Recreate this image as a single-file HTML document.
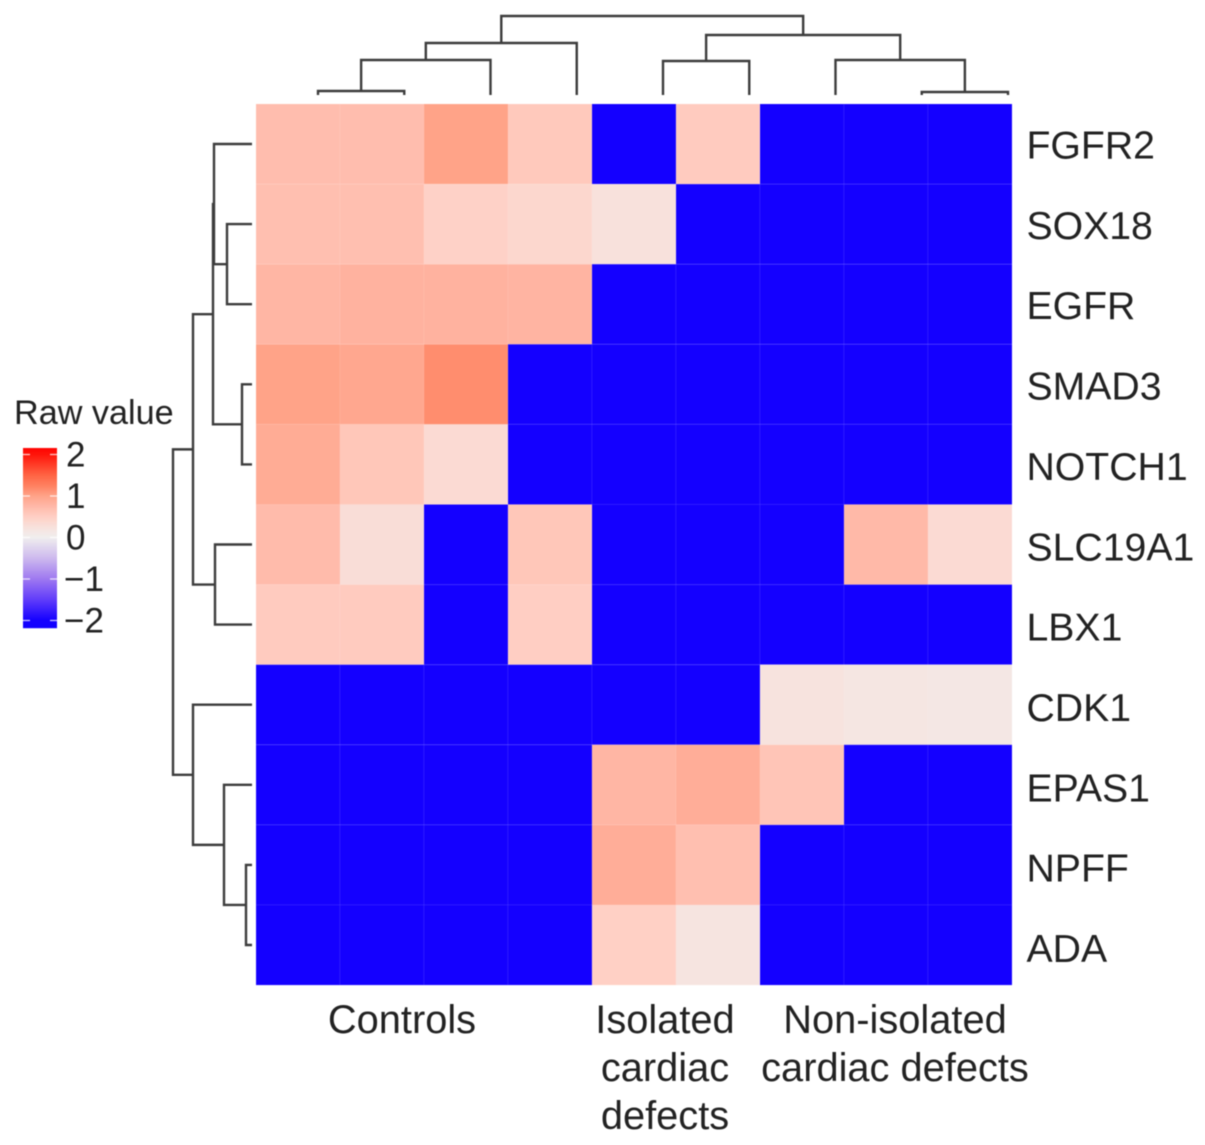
<!DOCTYPE html>
<html>
<head>
<meta charset="utf-8">
<style>
html,body{margin:0;padding:0;background:#fff;width:1205px;height:1145px;overflow:hidden}
svg{display:block;font-family:"Liberation Sans",sans-serif;filter:blur(0.55px)}
text{fill:#222}
</style>
</head>
<body>
<svg id="chart" width="1205" height="1145" viewBox="0 0 1205 1145" xmlns="http://www.w3.org/2000/svg">
  <g id="col-dendro"></g>
  <g id="row-dendro"></g>
  <g id="cells"></g>
  <g id="row-labels"></g>
  <g id="legend">
    <text x="14" y="424" font-size="34.2">Raw value</text>
    <g id="legend-bar"></g>
    <g id="legend-ticks"></g>
  </g>
  <g font-size="39.8" text-anchor="middle">
    <text x="402" y="1033">Controls</text>
    <text x="665" y="1033">Isolated</text>
    <text x="665" y="1081">cardiac</text>
    <text x="665" y="1129">defects</text>
    <text x="895" y="1033">Non-isolated</text>
    <text x="895" y="1081">cardiac defects</text>
  </g>
</svg>
<script>
const rowNames = ["FGFR2","SOX18","EGFR","SMAD3","NOTCH1","SLC19A1","LBX1","CDK1","EPAS1","NPFF","ADA"];
const FGFR2 = [0.70,0.70,1.00,0.58,-2,0.55,-2,-2,-2];
const SOX18 = [0.68,0.68,0.48,0.40,0.25,-2,-2,-2,-2];
const EGFR = [0.78,0.82,0.82,0.80,-2,-2,-2,-2,-2];
const SMAD3 = [1.00,0.95,1.16,-2,-2,-2,-2,-2,-2];
const NOTCH1 = [0.90,0.60,0.35,-2,-2,-2,-2,-2,-2];
const SLC19A1 = [0.72,0.30,-2,0.60,-2,-2,-2,0.75,0.35];
const LBX1 = [0.55,0.55,-2,0.52,-2,-2,-2,-2,-2];
const CDK1 = [-2,-2,-2,-2,-2,-2,0.22,0.17,0.14];
const EPAS1 = [-2,-2,-2,-2,0.78,0.88,0.62,-2,-2];
const NPFF = [-2,-2,-2,-2,0.88,0.68,-2,-2,-2];
const ADA = [-2,-2,-2,-2,0.50,0.20,-2,-2,-2];
const matrix = [FGFR2,SOX18,EGFR,SMAD3,NOTCH1,SLC19A1,LBX1,CDK1,EPAS1,NPFF,ADA];
const legendTicks = [2,1,0,-1,-2];
// dendrogram merges: [child a, child b, height]; child >= 0 is a leaf, child < 0 is earlier merge -(k+1)
const colMerges = [[0,1,4],[-1,2,35],[-2,3,52],[4,5,34],[7,8,3],[6,-5,35],[-4,-6,60],[-3,-7,79]];
const rowMerges = [[1,2,25],[0,-1,38],[3,4,10],[-2,-3,39],[5,6,37],[-4,-5,59],[9,10,6],[8,-7,28],[7,-8,59],[-6,-9,79]];

const NS = "http://www.w3.org/2000/svg";
const gridX = 256, gridY = 104, cellW = 84, cellH = 80.1;
const colorStops = [
  [-2.2,[16,0,255]],[-2,[20,0,255]],[-1.5,[96,60,250]],[-1,[158,120,240]],[-0.5,[205,185,238]],
  [0,[240,238,238]],[0.2,[246,228,224]],[0.5,[255,208,197]],[0.8,[255,180,162]],[1,[255,163,136]],
  [1.25,[255,128,96]],[1.5,[255,100,68]],[2,[255,20,10]],[2.2,[255,0,0]]
];
function colorOf(v){
  for(let i=1;i<colorStops.length;i++){
    const a=colorStops[i-1],b=colorStops[i];
    if(v<=b[0]){
      const t=Math.max(0,(v-a[0])/(b[0]-a[0]));
      const c=a[1].map((x,k)=>Math.round(x+(b[1][k]-x)*t));
      return "rgb("+c.join(",")+")";
    }
  }
  return "rgb(255,0,0)";
}
function mk(tag,parent,attrs){
  const el=document.createElementNS(NS,tag);
  for(const k in attrs) el.setAttribute(k,attrs[k]);
  parent.appendChild(el);
  return el;
}
const xCell=c=>gridX+c*cellW;
const yCell=r=>gridY+r*cellH;
const yRowLabel=r=>158.5+r*80.35;
const xColLeaf=i=>318+i*86.25;
const yColHeight=h=>95-h;
const yRowLeaf=i=>144+i*80.1;
const xRowHeight=h=>252-h;
const yLegend=v=>537.5-v*41.5;

// heatmap
const cells=document.getElementById("cells");
matrix.forEach((row,r)=>row.forEach((v,c)=>{
  const el=mk("rect",cells,{x:xCell(c),y:yCell(r),width:cellW,height:cellH,fill:colorOf(v),stroke:"rgba(255,255,255,0.07)","stroke-width":1});
  
  
}));

// row labels
const rowLabels=document.getElementById("row-labels");
rowNames.forEach((n,r)=>{
  const el=mk("text",rowLabels,{x:1026.5,y:yRowLabel(r),"font-size":39.2});
  el.textContent=n;
  
  
});

// dendrograms
function drawDendro(group,merges,leafPos,heightPos,horizontal){
  const nodes=[];
  const get=ch=>ch>=0?{p:leafPos(ch),q:heightPos(0)}:nodes[-ch-1];
  merges.forEach(m=>{
    const a=get(m[0]),b=get(m[1]),q=heightPos(m[2]);
    const d=horizontal
      ?"M"+a.q+" "+a.p+"H"+q+"V"+b.p+"H"+b.q
      :"M"+a.p+" "+a.q+"V"+q+"H"+b.p+"V"+b.q;
    const el=mk("path",group,{d:d,fill:"none",stroke:"#3c3c3c","stroke-width":2.4});
    
    
    nodes.push({p:(a.p+b.p)/2,q:q});
  });
}
drawDendro(document.getElementById("col-dendro"),colMerges,xColLeaf,yColHeight,false);
drawDendro(document.getElementById("row-dendro"),rowMerges,yRowLeaf,xRowHeight,true);

// legend
const bar=document.getElementById("legend-bar");
for(let y=448;y<628;y++){
  const el=mk("rect",bar,{x:23,y:y,width:34,height:1.2,fill:colorOf((537.5-y-0.5)/41.5)});
  
  
}
const ticks=document.getElementById("legend-ticks");
legendTicks.forEach(v=>{
  const y=yLegend(v);
  [[23,30],[50,57]].forEach(s=>{
    const t=mk("line",ticks,{x1:s[0],x2:s[1],y1:y,y2:y,stroke:"rgba(255,255,255,0.75)","stroke-width":1.3});
    
    
  });
  const el=mk("text",ticks,{x:v<0?64:66,y:y+12,"font-size":35});
  el.textContent=String(v).replace("-","\u2212");
  
  
});
</script>
</body>
</html>
